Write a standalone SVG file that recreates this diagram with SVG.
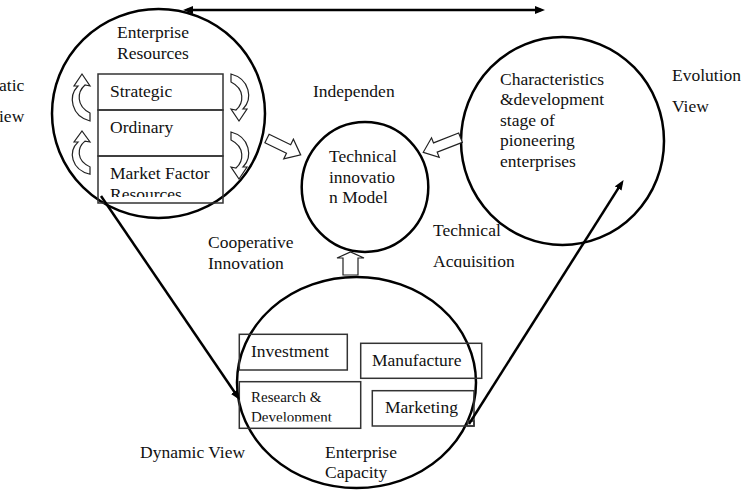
<svg xmlns="http://www.w3.org/2000/svg" width="745" height="495" viewBox="0 0 745 495" font-family="'Liberation Serif', 'Times New Roman', Times, 'DejaVu Serif', serif">
  <style>
    text { font-family: "Liberation Serif", "Times New Roman", Times, "DejaVu Serif", serif; font-size: 17.5px; fill: #111; }
    .small { font-size: 15px; }
    .ring { fill: none; stroke: #000; stroke-width: 2.5; }
    .box { fill: none; stroke: #333; stroke-width: 1.5; }
    .blk { fill: #fff; stroke: #222; stroke-width: 1.2; stroke-linejoin: miter; }
    .link { fill: none; stroke: #000; stroke-width: 2.5; }
  </style>
  <defs>
    <marker id="head" viewBox="0 0 10 8" refX="6" refY="4" markerWidth="10" markerHeight="8" markerUnits="userSpaceOnUse" orient="auto-start-reverse">
      <path d="M0,0 L10,4 L0,8 Z" fill="#000"/>
    </marker>
    <!-- curved block arrow: bulges left, head points up -->
    <path id="curl" d="M12,0 L20,12 L15,11 C7,18 6,32 20,39 L20,47 C1,42 -2,22 8,12 L4,12 Z"/>
    <!-- straight block arrows pointing right, tail at origin -->
    <polygon id="fatR" points="0,-4.8 24,-4.8 24,-11 37.5,0 24,11 24,4.8 0,4.8"/>
    <polygon id="fatL" points="0,-5 27,-5 27,-10.5 40,0 27,10.5 27,5 0,5"/>
    <clipPath id="clipMarket"><rect x="98" y="156" width="125" height="41"/></clipPath>
    <clipPath id="clipRD"><rect x="239" y="381" width="122" height="40.5"/></clipPath>
    <clipPath id="clipAcq"><rect x="425" y="240" width="120" height="27.5"/></clipPath>
  </defs>

  <!-- side captions -->
  <g id="static-view">
    <text x="-1" y="91">atic</text>
    <text x="-1" y="122">iew</text>
  </g>
  <g id="evolution-view">
    <text x="672" y="81">Evolution</text>
    <text x="672" y="112">View</text>
  </g>
  <g id="independent-label">
    <text x="313" y="97">Independen</text>
  </g>
  <g id="cooperative-label">
    <text x="208" y="248">Cooperative</text>
    <text x="208" y="269">Innovation</text>
  </g>
  <g id="acquisition-label">
    <text x="433" y="236">Technical</text>
    <text x="433" y="267" clip-path="url(#clipAcq)">Acquisition</text>
  </g>
  <g id="dynamic-view">
    <text x="140" y="458">Dynamic View</text>
  </g>

  <!-- enterprise resources -->
  <g id="resources">
    <ellipse class="ring" cx="158.5" cy="113.5" rx="106.5" ry="104.5"/>
    <text x="117" y="38">Enterprise</text>
    <text x="117" y="59">Resources</text>
    <rect class="box" x="98" y="74" width="125" height="36"/>
    <rect class="box" x="98" y="110" width="125" height="46"/>
    <rect class="box" x="98" y="156" width="125" height="47"/>
    <text x="110" y="97">Strategic</text>
    <text x="110" y="133">Ordinary</text>
    <text x="110" y="179">Market Factor</text>
    <text x="110" y="200" clip-path="url(#clipMarket)">Resources</text>
    <use href="#curl" class="blk" transform="translate(70,74)"/>
    <use href="#curl" class="blk" transform="translate(70,131) scale(1,0.92)"/>
    <use href="#curl" class="blk" transform="translate(251,121) rotate(180)"/>
    <use href="#curl" class="blk" transform="translate(251,179) rotate(180)"/>
  </g>

  <!-- pioneering enterprises -->
  <g id="pioneers">
    <ellipse class="ring" cx="562.5" cy="141" rx="101.5" ry="104"/>
    <text x="500" y="85">Characteristics</text>
    <text x="500" y="105">&amp;development</text>
    <text x="500" y="126">stage of</text>
    <text x="500" y="146">pioneering</text>
    <text x="500" y="167">enterprises</text>
  </g>

  <!-- technical innovation model -->
  <g id="model">
    <ellipse class="ring" cx="365" cy="187" rx="63.3" ry="65"/>
    <text x="329" y="162">Technical</text>
    <text x="329" y="183">innovatio</text>
    <text x="329" y="203">n Model</text>
  </g>

  <!-- enterprise capacity -->
  <g id="capacity">
    <ellipse class="ring" cx="356.5" cy="382.5" rx="119.5" ry="105.5"/>
    <rect class="box" x="239.3" y="334.3" width="108" height="35.7"/>
    <rect class="box" x="360.7" y="343.3" width="121" height="35"/>
    <rect class="box" x="239.3" y="381.7" width="121.4" height="46.6"/>
    <rect class="box" x="372.3" y="390.7" width="101.7" height="35.3"/>
    <rect class="box" x="467.5" y="421" width="6.5" height="5"/>
    <text x="251" y="357">Investment</text>
    <text x="372" y="366">Manufacture</text>
    <text class="small" x="251" y="402">Research &amp;</text>
    <text class="small" x="251" y="422" clip-path="url(#clipRD)">Development</text>
    <text x="385" y="413">Marketing</text>
    <text x="325" y="458">Enterprise</text>
    <text x="325" y="478">Capacity</text>
  </g>

  <!-- connectors -->
  <g id="connectors">
    <line class="link" x1="187" y1="10" x2="541" y2="10" marker-start="url(#head)" marker-end="url(#head)"/>
    <line class="link" x1="101" y1="196" x2="237.7" y2="396.7" marker-end="url(#head)"/>
    <line class="link" x1="469" y1="424" x2="621.4" y2="183.4" marker-end="url(#head)"/>
    <use href="#fatR" class="blk" transform="translate(267,138.5) rotate(26)"/>
    <use href="#fatL" class="blk" transform="translate(460.5,137.7) rotate(158.6)"/>
    <polygon class="blk" points="343,275 343,258 337,258 350.5,252 364,258 358,258 358,275"/>
  </g>
</svg>
